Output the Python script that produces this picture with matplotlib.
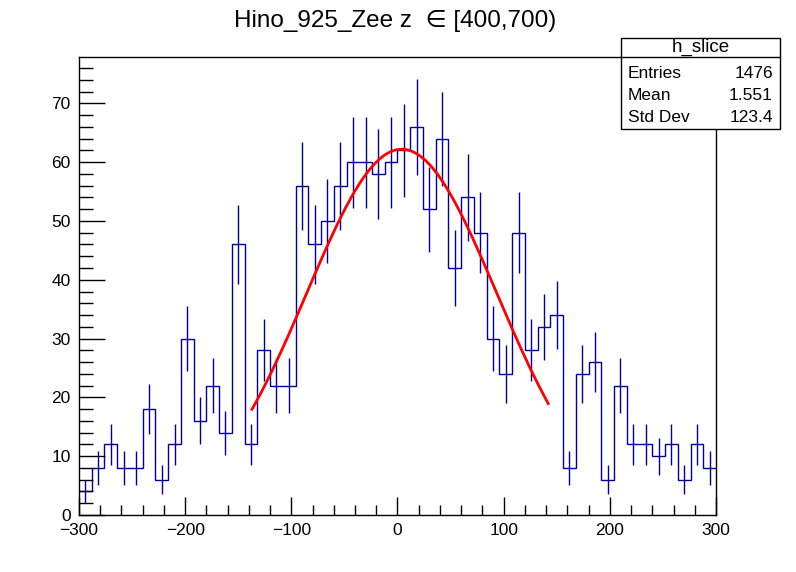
import numpy as np
import matplotlib
matplotlib.use('Agg')
import matplotlib.pyplot as plt
from matplotlib.ticker import MultipleLocator

plt.rcParams['font.family'] = ['Liberation Sans', 'DejaVu Sans']

# histogram h_slice: 50 bins of width 12 between -300 and 300
bin_edges = np.linspace(-300, 300, 51)
counts = [4, 8, 12, 8, 8, 18, 6, 12, 30, 16,
          22, 14, 46, 12, 28, 22, 22, 56, 46, 50,
          56, 60, 60, 58, 60, 62, 66, 52, 64, 42,
          54, 48, 30, 24, 48, 28, 32, 34, 8, 24,
          26, 6, 22, 12, 12, 10, 12, 6, 12, 8]

# gaussian fit result
fit_const = 62.2
fit_mean = 4.0
fit_sigma = 89.5
fit_range = (-137, 142)

title = 'Hino_925_Zee z  \u2208 [400,700)'
stats_name = 'h_slice'
stats_rows = [('Entries', '1476'), ('Mean', '1.551'), ('Std Dev', '123.4')]

hist_color = '#000099'

fig = plt.figure(figsize=(7.96, 5.72), dpi=100)
ax = fig.add_axes([0.0992, 0.0997, 0.8003, 0.8001])

counts = np.array(counts, dtype=float)
centers = 0.5 * (bin_edges[:-1] + bin_edges[1:])
ax.stairs(counts, bin_edges, baseline=None, color=hist_color, lw=1.0)
ax.errorbar(centers, counts, yerr=np.sqrt(counts), fmt='none',
            ecolor=hist_color, elinewidth=1.0, capsize=0)

xf = np.linspace(fit_range[0], fit_range[1], 300)
yf = fit_const * np.exp(-0.5 * ((xf - fit_mean) / fit_sigma) ** 2)
ax.plot(xf, yf, color='red', lw=2.0)

ymax = 1.05 * (counts.max() + np.sqrt(counts.max()))
ax.set_xlim(-300, 300)
ax.set_ylim(0, ymax)

ax.xaxis.set_major_locator(MultipleLocator(100))
ax.xaxis.set_minor_locator(MultipleLocator(20))
ax.yaxis.set_major_locator(MultipleLocator(10))
ax.yaxis.set_minor_locator(MultipleLocator(2))
ax.tick_params(which='both', direction='in', top=False, right=False,
               labelsize=12.5, width=1.0)
ax.tick_params(axis='x', which='major', length=13, pad=6)
ax.tick_params(axis='x', which='minor', length=7)
ax.tick_params(axis='y', which='major', length=19, pad=6)
ax.tick_params(axis='y', which='minor', length=10)
for s in ax.spines.values():
    s.set_linewidth(1.0)

fig.text(0.497, 0.963, title, ha='center', va='center', fontsize=17.5)

# stats box
W, H = 796.0, 572.0
bx0, bx1 = 620.7 / W, 780 / W
by0, by1 = 1 - 129 / H, 1 - 38.3 / H
sep = 1 - 57.3 / H
box = plt.Rectangle((bx0, by0), bx1 - bx0, by1 - by0, transform=fig.transFigure,
                    facecolor='white', edgecolor='black', lw=1.0, zorder=5)
fig.add_artist(box)
fig.add_artist(plt.Line2D([bx0, bx1], [sep, sep], transform=fig.transFigure,
                          color='black', lw=1.0, zorder=6))
fig.text((bx0 + bx1) / 2, 1 - 47.5 / H, stats_name, ha='center', va='center',
         fontsize=13.5, zorder=7)
row_y = [73, 95.5, 118]
for (name, val), yy in zip(stats_rows, row_y):
    fig.text(628 / W, 1 - yy / H, name, ha='left', va='center', fontsize=12.5, zorder=7)
    fig.text(773 / W, 1 - yy / H, val, ha='right', va='center', fontsize=12.5, zorder=7)

fig.savefig('out.png', dpi=100)
